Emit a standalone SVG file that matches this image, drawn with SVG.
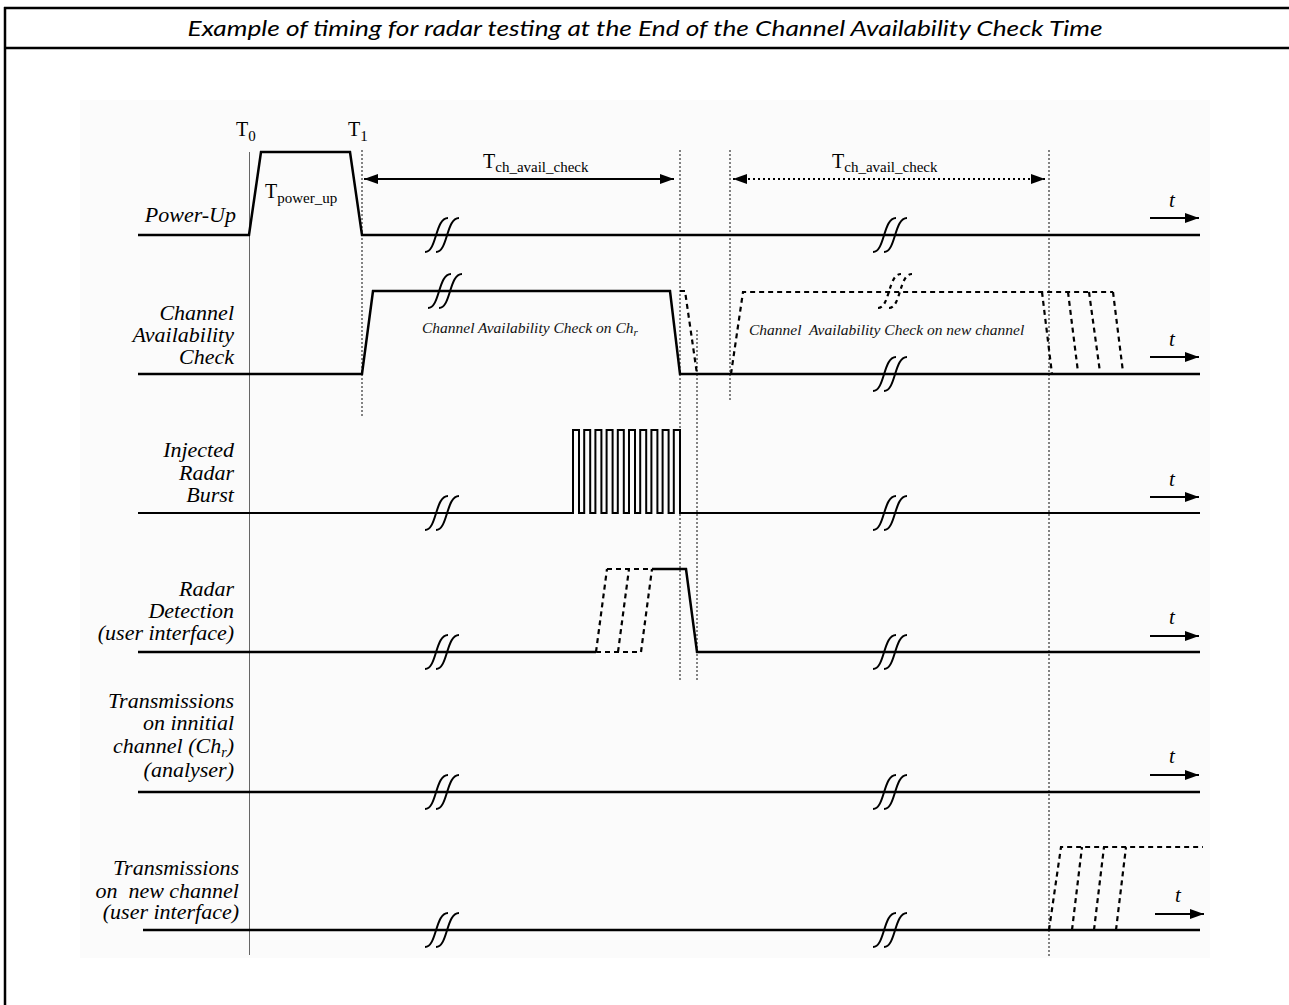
<svg xmlns="http://www.w3.org/2000/svg" width="1289" height="1005" viewBox="0 0 1289 1005">
<style>
.frame{stroke:#000;stroke-width:2.5;fill:none}
.sig{stroke:#000;stroke-width:2.5;fill:none;stroke-linejoin:miter}
.thin{stroke:#000;stroke-width:2;fill:none}
.dash{stroke:#000;stroke-width:2.2;fill:none;stroke-dasharray:5 4}
.dot{stroke:#333;stroke-width:1.2;fill:none;stroke-dasharray:2 2}
.brk{stroke:#000;stroke-width:2;fill:none}
.lbl{font-family:"Liberation Serif","Times New Roman",serif;font-style:italic;font-size:22px;text-anchor:end;fill:#000}
.note{font-family:"Liberation Serif","Times New Roman",serif;font-style:italic;font-size:15.5px;fill:#111;white-space:pre}
.tt{font-family:"Liberation Serif","Times New Roman",serif;font-size:20px;fill:#000}
.sub{font-size:15px}
.tax{font-family:"Liberation Serif","Times New Roman",serif;font-style:italic;font-size:21px;text-anchor:middle;fill:#000}
.title{font-family:Lato,"Open Sans","Liberation Sans",sans-serif;font-style:italic;font-size:21px;text-anchor:middle;fill:#000}
.arr{stroke:#000;stroke-width:1.8;fill:none;marker-end:url(#ah)}
</style>
<defs>
<marker id="ah" viewBox="0 0 14 10" refX="14" refY="5" markerWidth="14" markerHeight="10" markerUnits="userSpaceOnUse" orient="auto-start-reverse">
<path d="M0,0 L14,5 L0,10 z" fill="#000"/>
</marker>
<path id="brk" d="M-17,17 C-5,17 -7,-17 6,-17 M-6,17 C6,17 4,-17 17,-17"/>
</defs>

<rect x="0" y="0" width="1289" height="1005" fill="#fff"/>
<rect x="80" y="100" width="1130" height="858" fill="#fbfbfb"/>

<g id="frame">
<line class="frame" x1="4" y1="8" x2="1289" y2="8"/>
<line class="frame" x1="4" y1="48" x2="1289" y2="48"/>
<line class="frame" x1="5" y1="7" x2="5" y2="1005"/>
<text class="title" x="645" y="36" textLength="915" lengthAdjust="spacingAndGlyphs">Example of timing for radar testing at the End of the Channel Availability Check Time</text>
</g>

<g id="connectors">
<line x1="249.5" y1="152" x2="249.5" y2="955" stroke="#666" stroke-width="1"/>
<line class="dot" x1="362" y1="150" x2="362" y2="418"/>
<line class="dot" x1="680" y1="150" x2="680" y2="682"/>
<line class="dot" x1="697" y1="330" x2="697" y2="682"/>
<line class="dot" x1="730" y1="150" x2="730" y2="402"/>
<line class="dot" x1="1049" y1="150" x2="1049" y2="957"/>
<line x1="364" y1="179" x2="674" y2="179" stroke="#000" stroke-width="1.8" marker-start="url(#ah)" marker-end="url(#ah)"/>
<line x1="733" y1="179" x2="1045" y2="179" stroke="#000" stroke-width="1.8" stroke-dasharray="2 3" marker-start="url(#ah)" marker-end="url(#ah)"/>
<text class="tt" x="236" y="136">T<tspan class="sub" dy="5">0</tspan></text>
<text class="tt" x="348" y="136">T<tspan class="sub" dy="5">1</tspan></text>
<text class="tt" x="483" y="168">T<tspan class="sub" dy="4">ch_avail_check</tspan></text>
<text class="tt" x="832" y="168">T<tspan class="sub" dy="4">ch_avail_check</tspan></text>
</g>

<g id="row-power-up">
<text class="lbl" x="236" y="222">Power-Up</text>
<path class="sig" d="M138,235 L249,235 L261,152 L350,152 L362,235 L1200,235"/>
<text class="tt" x="265" y="198">T<tspan class="sub" dy="5">power_up</tspan></text>
<use href="#brk" class="brk" x="442" y="235"/>
<use href="#brk" class="brk" x="890" y="235"/>
<path class="arr" d="M1150,218 L1199,218"/>
<text class="tax" x="1172" y="207">t</text>
</g>

<g id="row-cac">
<text class="lbl" x="234"><tspan x="234" y="320">Channel</tspan><tspan x="234" y="342">Availability</tspan><tspan x="234" y="364">Check</tspan></text>
<path class="sig" d="M138,374 L362,374 L373,291 L670,291 L680,374 L1200,374"/>
<use href="#brk" class="brk" x="445" y="291"/>
<use href="#brk" class="brk" x="890" y="374"/>
<text class="note" x="422" y="333">Channel Availability Check on Ch<tspan font-size="11" dy="3">r</tspan></text>
<path class="dash" d="M680,291 L685,291 L697,374"/>
<path class="dash" d="M731,374 L743,292 L1113,292"/>
<path class="dash" d="M1042,292 L1052,374 M1068,292 L1078,372 M1089,292 L1100,372 M1113,292 L1123,372"/>
<use href="#brk" class="dash" style="stroke-dasharray:4 4" x="895" y="291"/>
<text class="note" x="749" y="335">Channel  Availability Check on new channel</text>
<path class="arr" d="M1150,357 L1199,357"/>
<text class="tax" x="1172" y="346">t</text>
</g>

<g id="row-radar-burst">
<text class="lbl" x="234"><tspan x="234" y="457">Injected</tspan><tspan x="234" y="480">Radar</tspan><tspan x="234" y="502">Burst</tspan></text>
<path class="thin" d="M138,513 L573,513 L573,430 L579,430 L579,513 L584.2,513 L584.2,430 L590.2,430 L590.2,513 L595.4,513 L595.4,430 L601.4,430 L601.4,513 L606.6,513 L606.6,430 L612.6,430 L612.6,513 L617.8,513 L617.8,430 L623.8,430 L623.8,513 L629,513 L629,430 L635,430 L635,513 L640.2,513 L640.2,430 L646.2,430 L646.2,513 L651.4,513 L651.4,430 L657.4,430 L657.4,513 L662.6,513 L662.6,430 L668.6,430 L668.6,513 L673.8,513 L673.8,430 L680,430 L680,513 L1200,513"/>
<use href="#brk" class="brk" x="442" y="513"/>
<use href="#brk" class="brk" x="890" y="513"/>
<path class="arr" d="M1150,497 L1199,497"/>
<text class="tax" x="1172" y="486">t</text>
</g>

<g id="row-radar-detection">
<text class="lbl" x="234"><tspan x="234" y="596">Radar</tspan><tspan x="234" y="618">Detection</tspan><tspan x="234" y="640">(user interface)</tspan></text>
<path class="sig" d="M138,652 L596,652"/>
<path class="sig" d="M652,569 L686,569 L697,652 L1200,652"/>
<path class="dash" d="M596,652 L641,652 M607,569 L652,569 M596,652 L607,569 M618,652 L629,569 M641,652 L652,569"/>
<use href="#brk" class="brk" x="442" y="652"/>
<use href="#brk" class="brk" x="890" y="652"/>
<path class="arr" d="M1150,636 L1199,636"/>
<text class="tax" x="1172" y="624">t</text>
</g>

<g id="row-tx-initial">
<text class="lbl" x="234"><tspan x="234" y="708">Transmissions</tspan><tspan x="234" y="730">on innitial</tspan><tspan x="234" y="753">channel (Ch<tspan font-size="14" dy="4">r</tspan><tspan dy="-4">)</tspan></tspan><tspan x="234" y="777">(analyser)</tspan></text>
<path class="sig" d="M138,792 L1200,792"/>
<use href="#brk" class="brk" x="442" y="792"/>
<use href="#brk" class="brk" x="890" y="792"/>
<path class="arr" d="M1150,775 L1199,775"/>
<text class="tax" x="1172" y="763">t</text>
</g>

<g id="row-tx-new">
<text class="lbl" x="239" style="white-space:pre"><tspan x="239" y="875">Transmissions</tspan><tspan x="239" y="898">on  new channel</tspan><tspan x="239" y="919">(user interface)</tspan></text>
<path class="sig" d="M143,930 L1200,930"/>
<use href="#brk" class="brk" x="442" y="930"/>
<use href="#brk" class="brk" x="890" y="930"/>
<path class="dash" d="M1049,930 L1061,847 L1203,847 M1072,930 L1082,847 M1094,930 L1104,847 M1116,930 L1126,847"/>
<path class="arr" d="M1155,914 L1204,914"/>
<text class="tax" x="1178" y="902">t</text>
</g>
</svg>
